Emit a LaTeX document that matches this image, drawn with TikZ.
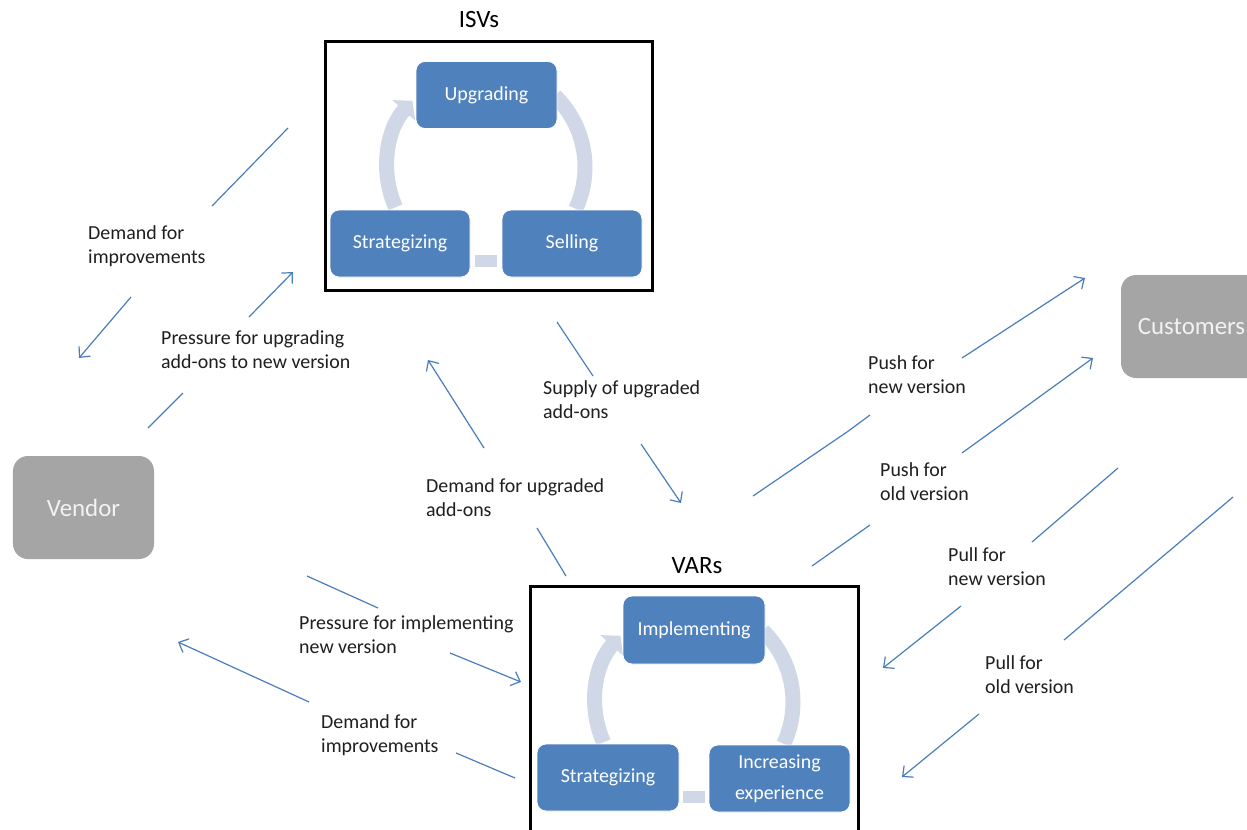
\documentclass[tikz,border=0pt]{standalone}
\usepackage{fontspec}
\setmainfont{Carlito}
\usetikzlibrary{arrows.meta}
\definecolor{boxblue}{HTML}{4F81BD}
\definecolor{bandblue}{HTML}{D0D8E8}
\definecolor{linkblue}{HTML}{4A7EBB}
\definecolor{greyfill}{HTML}{A5A5A5}
\definecolor{greytext}{HTML}{F2F2F2}
\definecolor{labeltext}{HTML}{1F1F1F}
\begin{document}
\begin{tikzpicture}[x=1bp,y=-1bp,
  bluebox/.style={rectangle, rounded corners=9bp, fill=boxblue, draw=white, line width=0.8bp, text=white, minimum width=141bp, minimum height=67bp, inner sep=0pt, font=\fontsize{20}{24}\selectfont},
  greybox/.style={rectangle, rounded corners=15bp, fill=greyfill, text=greytext, minimum width=141bp, minimum height=103bp, inner sep=0pt, font=\fontsize{25}{30}\selectfont},
  frame/.style={rectangle, draw=black, line width=3bp, inner sep=0pt},
  title/.style={font=\fontsize{25}{30}\selectfont, inner sep=0pt, text=black},
  lbl/.style={font=\fontsize{20}{24}\selectfont, align=left, anchor=base west, inner sep=0pt, text=labeltext},
  link/.style={draw=linkblue, line width=1.2bp},
  linkarrow/.style={link, -{Straight Barb[length=8bp,width=15bp]}},
  band/.style={draw=bandblue, line width=15bp},
  bandarrow/.style={band, -{Triangle[length=13bp,width=30bp]}},
  connrect/.style={rectangle, fill=bandblue, draw=none, inner sep=0pt, minimum width=22bp, minimum height=12bp}
]
\useasboundingbox (0,0) rectangle (1247,830);
\clip (0,0) rectangle (1247,830);
\fill[white] (0,0) rectangle (1247,830);

% ---------- ISVs ----------
\node[frame, minimum width=327bp, minimum height=248bp] (isv) at (488.5,166) {};
\node[title] (isvt) at (479,20) {ISVs};
\coordinate (isvc) at (486,167);
\draw[bandarrow] ([shift={(156:99)}]isvc) arc[start angle=156, end angle=222, radius=99];
\draw[band] ([shift={(-46:99)}]isvc) arc[start angle=-46, end angle=25, radius=99];
\node[connrect] (isvlink) at (486,261) {};
\node[bluebox] (upg) at (486.5,95) {Upgrading};
\node[bluebox, minimum width=140bp] (istr) at (400,243.5) {Strategizing};
\node[bluebox, minimum width=140bp] (sell) at (572,243.5) {Selling};

% ---------- VARs ----------
\node[frame, minimum width=328bp, minimum height=254bp] (var) at (694,713) {};
\node[title] (vart) at (697,566) {VARs};
\coordinate (varc) at (694,702);
\draw[bandarrow] ([shift={(156:99)}]varc) arc[start angle=156, end angle=222, radius=99];
\draw[band] ([shift={(-46:99)}]varc) arc[start angle=-46, end angle=25, radius=99];
\node[connrect] (varlink) at (694,797) {};
\node[bluebox, minimum width=142bp, minimum height=68bp] (impl) at (694,630) {Implementing};
\node[bluebox, minimum width=142bp] (vstr) at (608,777.5) {Strategizing};
\node[bluebox, align=center, font=\fontsize{20}{31}\selectfont] (incr) at (779.5,778.5) {Increasing\\experience};

% ---------- Vendor / Customers ----------
\node[greybox] (vendor) at (83.5,507.5) {Vendor};
\node[greybox] (cust) at (1191.5,326.5) {Customers};

% ---------- connector end points ----------
\coordinate (a1s) at (288,128); \coordinate (a1m) at (212,206);
\coordinate (a1n) at (131,297); \coordinate (a1e) at (79,358);
\coordinate (a2s) at (148,428); \coordinate (a2m) at (183,393);
\coordinate (a2n) at (249,317); \coordinate (a2e) at (293,272);
\coordinate (a3s) at (557,322); \coordinate (a3m) at (593,376);
\coordinate (a3n) at (641,444); \coordinate (a3e) at (681,503);
\coordinate (a4s) at (566,576); \coordinate (a4m) at (537,528);
\coordinate (a4n) at (484,448); \coordinate (a4e) at (428,360);
\coordinate (a5s) at (307,576); \coordinate (a5m) at (378,608);
\coordinate (a5n) at (450,653); \coordinate (a5e) at (521,682);
\coordinate (a6s) at (515,778); \coordinate (a6m) at (456,753);
\coordinate (a6n) at (309,702); \coordinate (a6e) at (178,642);
\coordinate (a7s) at (753,496); \coordinate (a7k) at (847,432); \coordinate (a7m) at (870,415);
\coordinate (a7n) at (962,358); \coordinate (a7e) at (1085,278);
\coordinate (a8s) at (812,566); \coordinate (a8m) at (870,525);
\coordinate (a8n) at (962,453); \coordinate (a8e) at (1093,358);
\coordinate (a9s) at (1118,468); \coordinate (a9m) at (1032,542);
\coordinate (a9n) at (961,606); \coordinate (a9e) at (883,668);
\coordinate (a10s) at (1233,497); \coordinate (a10m) at (1064,640);
\coordinate (a10n) at (979,714); \coordinate (a10e) at (902,777);

% ---------- connectors ----------
\draw[link] (a1s) -- (a1m); \draw[linkarrow] (a1n) -- (a1e);
\draw[link] (a2s) -- (a2m); \draw[linkarrow] (a2n) -- (a2e);
\draw[link] (a3s) -- (a3m); \draw[linkarrow] (a3n) -- (a3e);
\draw[link] (a4s) -- (a4m); \draw[linkarrow] (a4n) -- (a4e);
\draw[link] (a5s) -- (a5m); \draw[linkarrow] (a5n) -- (a5e);
\draw[link] (a6s) -- (a6m); \draw[linkarrow] (a6n) -- (a6e);
\draw[link] (a7s) -- (a7k) -- (a7m); \draw[linkarrow] (a7n) -- (a7e);
\draw[link] (a8s) -- (a8m); \draw[linkarrow] (a8n) -- (a8e);
\draw[link] (a9s) -- (a9m); \draw[linkarrow] (a9n) -- (a9e);
\draw[link] (a10s) -- (a10m); \draw[linkarrow] (a10n) -- (a10e);

% ---------- labels (anchor = baseline of the last line) ----------
\node[lbl] (l1) at (88,263) {Demand for\\improvements};
\node[lbl] (l2) at (161,368) {Pressure for upgrading\\add-ons to new version};
\node[lbl] (l3) at (543,418) {Supply of upgraded\\add-ons};
\node[lbl] (l4) at (426,516) {Demand for upgraded\\add-ons};
\node[lbl] (l5) at (299,653) {Pressure for implementing\\new version};
\node[lbl] (l6) at (321,752) {Demand for\\improvements};
\node[lbl] (l7) at (868,393) {Push for\\new version};
\node[lbl] (l8) at (880,500) {Push for\\old version};
\node[lbl] (l9) at (948,585) {Pull for\\new version};
\node[lbl] (l10) at (985,693) {Pull for\\old version};
\end{tikzpicture}
\end{document}
